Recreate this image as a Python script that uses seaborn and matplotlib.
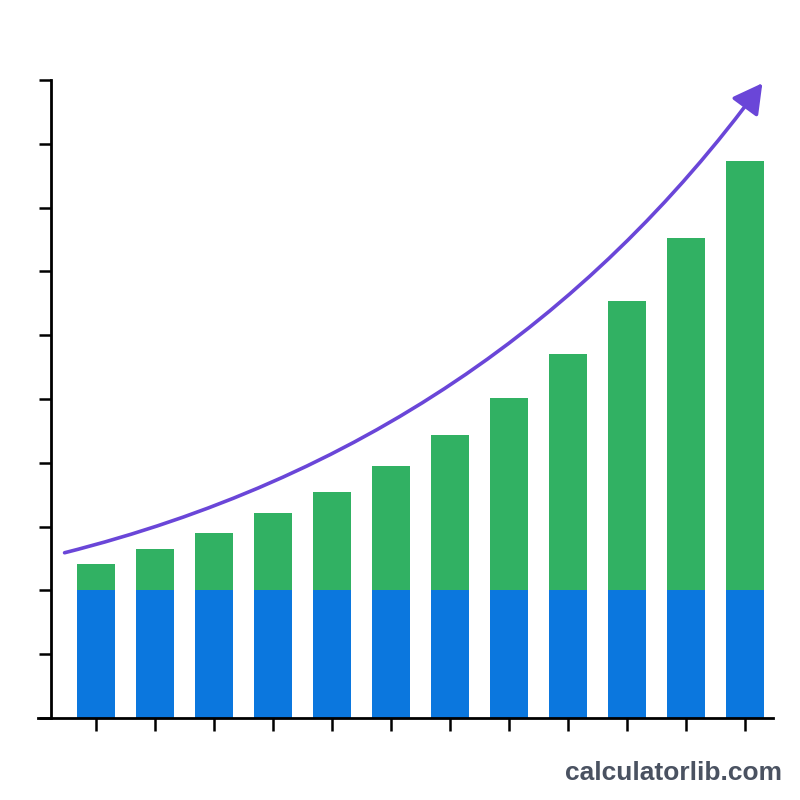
import numpy as np
import pandas as pd
import matplotlib
matplotlib.use("Agg")
import matplotlib.pyplot as plt
import seaborn as sns

# ---- data ----
categories = [str(i) for i in range(1, 13)]
base_values = [2, 2, 2, 2, 2, 2, 2, 2, 2, 2, 2, 2]
growth_values = [0.41, 0.65, 0.90, 1.22, 1.55, 1.95, 2.43, 3.01, 3.70, 4.54, 5.52, 6.73]
# trend arrow: start and tip (x in category index units, y in value units)
trend_start = (-0.53, 2.59)
trend_tip = (11.29, 9.95)
trend_bend = 0.18

BLUE = "#0b77de"
GREEN = "#31b163"
PURPLE = "#6a46d8"

totals = [b + g for b, g in zip(base_values, growth_values)]
df = pd.DataFrame({"cat": categories, "base": base_values, "total": totals})

sns.set_theme(style="white")
fig = plt.figure(figsize=(8, 8), dpi=100, facecolor="white")
ax = fig.add_axes([38 / 800, 1 - 718 / 800, (773 - 38) / 800, (718 - 80) / 800])
ax.set_facecolor("white")

sns.barplot(data=df, x="cat", y="total", color=GREEN, saturation=1, width=0.645,
            ax=ax, edgecolor="none", linewidth=0)
sns.barplot(data=df, x="cat", y="base", color=BLUE, saturation=1, width=0.645,
            ax=ax, edgecolor="none", linewidth=0)

# trend curve with arrowhead
ax.annotate("", xy=trend_tip, xytext=trend_start,
            arrowprops=dict(arrowstyle="-|>,head_length=1.0,head_width=0.55",
                            mutation_scale=18, color=PURPLE, lw=2.6,
                            shrinkA=0, shrinkB=0, capstyle="round",
                            connectionstyle=f"arc3,rad={trend_bend}"),
            zorder=6, annotation_clip=False)

ax.set_xlim(-0.98, 11.47)
ax.set_ylim(0, 10)
ax.set_yticks(np.arange(0, 11, 1))
ax.set_xticks(range(len(categories)))
ax.set_xticklabels([])
ax.set_yticklabels([])
ax.set_xlabel("")
ax.set_ylabel("")

for s in ["top", "right"]:
    ax.spines[s].set_visible(False)
ax.spines["left"].set_position(("data", -0.76))
ax.spines["left"].set_bounds(0, 10)
for s in ["left", "bottom"]:
    ax.spines[s].set_color("black")
    ax.spines[s].set_linewidth(2.0)
ax.tick_params(axis="both", direction="out", length=9, width=1.8, color="black",
               left=True, bottom=True)

fig.text(782 / 800, 1 - 773 / 800, "calculatorlib.com", ha="right", va="center",
         fontsize=19, fontweight="bold", color="#4a5261", family="Liberation Sans")

fig.savefig("out.png", dpi=100, facecolor="white")
